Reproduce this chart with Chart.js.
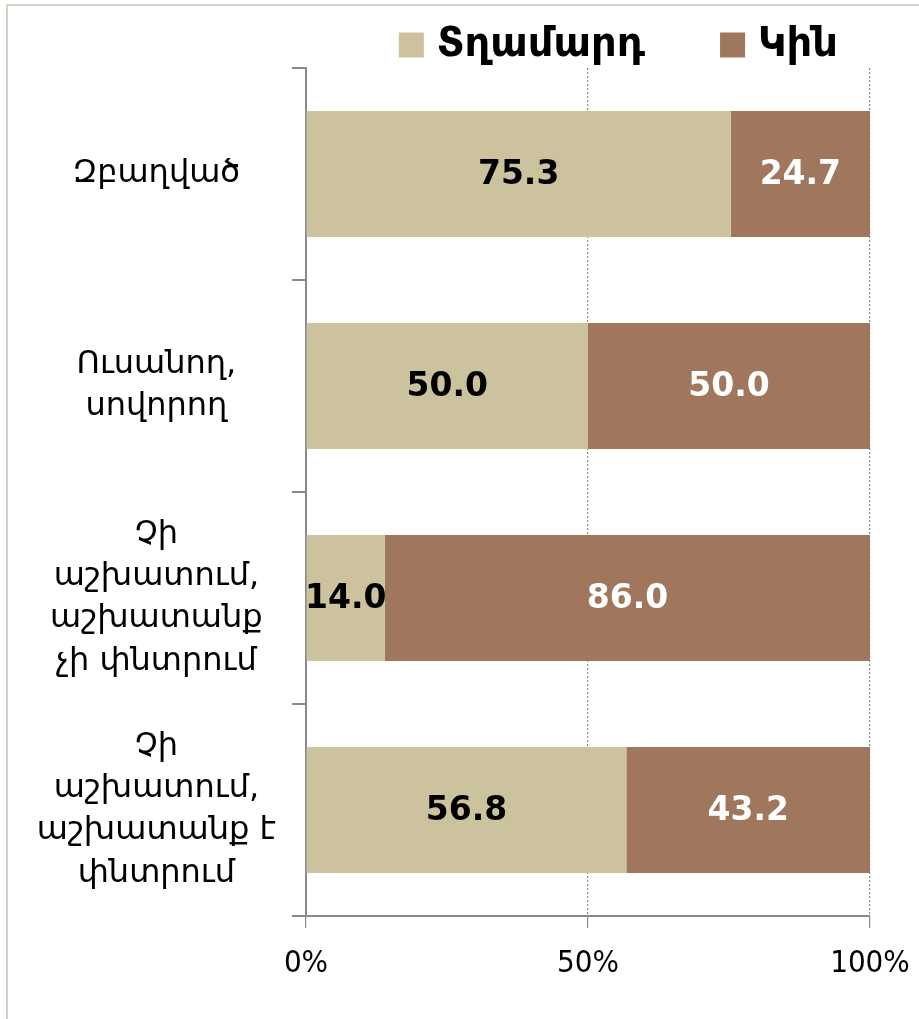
<!DOCTYPE html>
<html>
<head>
<meta charset="utf-8">
<title>Chart</title>
<script src="https://cdn.jsdelivr.net/npm/chart.js@4.4.1/dist/chart.umd.min.js"></script>
<style>
  html, body { margin: 0; padding: 0; background: #fff; }
  #wrap { position: relative; width: 919px; height: 1019px; overflow: hidden; }
  #frame { position: absolute; left: 6px; top: 4px; right: -4px; bottom: -4px;
           border-top: 2px solid #d9d0c3; border-left: 2px solid #d9d0c3; }
  canvas { position: absolute; left: 0; top: 0; }
</style>
</head>
<body>
<div id="wrap">
  <div id="frame"></div>
  <canvas id="myChart" width="919" height="1019"></canvas>
</div>
<script>
const categories = [
    ['Զբաղված'],
    ['Ուսանող,', 'սովորող'],
    ['Չի', 'աշխատում,', 'աշխատանք', 'չի փնտրում'],
    ['Չի', 'աշխատում,', 'աշխատանք է', 'փնտրում']
];
const seriesNames = ['Տղամարդ', 'Կին'];
const maleValues = [75.3, 50.0, 14.0, 56.8];
const femaleValues = [24.7, 50.0, 86.0, 43.2];
const xTicks = [0, 50, 100];

const colors = ['#ccc39e', '#a0765d'];
const labelColors = ['#000', '#fff'];
const fontFamily = "'DejaVu Sans', sans-serif";
const tickFamily = "'DejaVu Sans Condensed', 'DejaVu Sans', sans-serif";

// values inside the bars
const valueLabels = {
    id: 'valueLabels',
    afterDatasetsDraw(chart) {
        const ctx = chart.ctx;
        ctx.save();
        ctx.font = 'bold 33px ' + fontFamily;
        ctx.textAlign = 'center';
        ctx.textBaseline = 'middle';
        chart.data.datasets.forEach(function (ds, i) {
            chart.getDatasetMeta(i).data.forEach(function (bar, j) {
                ctx.fillStyle = labelColors[i];
                ctx.fillText(ds.data[j].toFixed(1), (bar.x + bar.base) / 2, bar.y + 1);
            });
        });
        ctx.restore();
    }
};

// legend in the top right corner
const topLegend = {
    id: 'topLegend',
    afterDraw(chart) {
        const ctx = chart.ctx;
        const box = 25, gap = 13, itemGap = 75, right = 838, mid = 45;
        ctx.save();
        ctx.font = 'bold 40px ' + fontFamily;
        ctx.textBaseline = 'middle';
        let x = right;
        for (let i = seriesNames.length - 1; i >= 0; i--) {
            const w = ctx.measureText(seriesNames[i]).width;
            x -= w;
            ctx.fillStyle = '#000';
            ctx.fillText(seriesNames[i], x, mid + 1);
            x -= gap + box;
            ctx.fillStyle = colors[i];
            ctx.fillRect(x, mid - box / 2, box, box);
            x -= itemGap;
        }
        ctx.restore();
    }
};

const ctx = document.getElementById('myChart');
new Chart(ctx, {
    type: 'bar',
    data: {
        labels: categories,
        datasets: [
            { label: seriesNames[0], data: maleValues, backgroundColor: colors[0] },
            { label: seriesNames[1], data: femaleValues, backgroundColor: colors[1] }
        ]
    },
    options: {
        indexAxis: 'y',
        responsive: false,
        animation: false,
        barPercentage: 0.594,
        categoryPercentage: 1,
        layout: { padding: { top: 68, right: 49, left: 0, bottom: 0 } },
        plugins: {
            legend: { display: false },
            tooltip: { enabled: false }
        },
        scales: {
            x: {
                stacked: true,
                min: 0,
                max: 100,
                afterBuildTicks(scale) {
                    scale.ticks = xTicks.map(function (v) { return { value: v }; });
                },
                afterFit(scale) {
                    scale.height = 103;
                    scale.paddingLeft = 0;
                    scale.paddingRight = 0;
                },
                ticks: {
                    color: '#000',
                    padding: 17,
                    maxRotation: 0,
                    font: { family: tickFamily, size: 31 },
                    callback: function (v) { return v + '%'; }
                },
                grid: {
                    color: function (c) { return c.index === 0 ? 'rgba(0,0,0,0)' : '#8a8a8a'; },
                    tickColor: '#8a8a8a',
                    tickLength: 12,
                    lineWidth: 1.2
                },
                border: { color: '#8a8a8a', width: 2, dash: [2, 2] }
            },
            y: {
                stacked: true,
                afterFit(scale) {
                    scale.width = 306;
                    scale.paddingTop = 0;
                    scale.paddingBottom = 0;
                },
                ticks: {
                    color: '#000',
                    crossAlign: 'center',
                    padding: 16,
                    autoSkip: false,
                    font: { family: fontFamily, size: 32, lineHeight: 1.32 }
                },
                grid: {
                    offset: true,
                    drawOnChartArea: false,
                    color: '#8a8a8a',
                    tickLength: 14,
                    lineWidth: 2
                },
                border: { color: '#8a8a8a', width: 2 }
            }
        }
    },
    plugins: [valueLabels, topLegend]
});
</script>
</body>
</html>
